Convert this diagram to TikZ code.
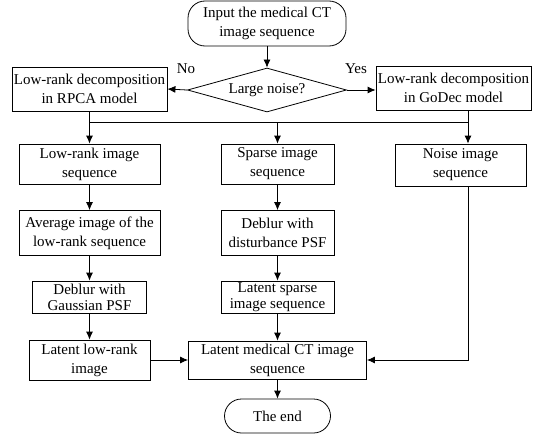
\documentclass[tikz,border=0pt]{standalone}
\usepackage{fontspec}
\setmainfont{Liberation Serif}
\usetikzlibrary{shapes.geometric,arrows.meta}
\tikzset{
  box/.style={draw, align=center, inner xsep=0pt, inner ysep=1pt, line width=.8pt,
    font=\fontsize{15}{19}\selectfont},
  tight/.style={box, inner ysep=0pt, font=\fontsize{15}{16}\selectfont},
  term/.style={box, rounded corners=17pt},
  decide/.style={draw, diamond, aspect=3.6, inner sep=0pt, line width=.8pt,
    minimum width=159pt, minimum height=44pt, font=\fontsize{15}{19}\selectfont},
  conn/.style={line width=.8pt},
  arr/.style={conn, -{Latex[length=8pt,width=7pt]}},
  tag/.style={font=\fontsize{15}{19}\selectfont, inner sep=0pt}
}

\begin{document}
\begin{tikzpicture}[x=1pt,y=-1pt]
  \useasboundingbox (0,0) rectangle (538,436);
  % start and decision
  \node[term, minimum width=158pt, minimum height=45pt] (start) at (267,23.5) {Input the medical CT\\image sequence};
  \node[decide] (noisy) at (267,90) {Large noise?};
  \node[tag] (no) at (186,69) {No};
  \node[tag] (yes) at (356,69) {Yes};
  % decompositions
  \node[box, minimum width=155pt, minimum height=44pt] (rpca) at (89.5,89) {Low-rank decomposition\\in RPCA model};
  \node[box, minimum width=155pt, minimum height=44pt] (godec) at (453.5,88) {Low-rank decomposition\\in GoDec model};
  % three sequences
  \node[box, minimum width=141pt, minimum height=40pt] (lrseq) at (89.5,164) {Low-rank image\\sequence};
  \node[box, minimum width=113pt, minimum height=40pt] (spseq) at (277.5,164) {Sparse image\\sequence};
  \node[box, minimum width=131pt, minimum height=42pt] (nsseq) at (460.5,165) {Noise image\\sequence};
  % deblurring
  \node[box, minimum width=141pt, minimum height=45pt] (avg) at (89.5,233) {Average image of the\\low-rank sequence};
  \node[box, minimum width=113pt, minimum height=45pt] (dbdist) at (277.5,233) {Deblur with\\disturbance PSF};
  \node[tight, minimum width=114pt, minimum height=32pt] (dbgauss) at (89.5,297) {Deblur with\\Gaussian PSF};
  \node[tight, minimum width=113pt, minimum height=32pt] (ltsp) at (277.5,297) {Latent sparse\\image sequence};
  % results
  \node[box, minimum width=121pt, minimum height=40pt] (ltlr) at (89.5,360) {Latent low-rank\\image};
  \node[box, minimum width=178pt, minimum height=38pt] (ltct) at (277.5,360) {Latent medical CT image\\sequence};
  \node[term, minimum width=106pt, minimum height=34pt] (stop) at (277.5,416) {The end};
  % bus points
  \coordinate (bl) at (89.5,122);
  \coordinate (bm) at (277.5,122);
  \coordinate (br) at (468,122);
  % connectors
  \draw[arr] (start) -- (noisy);
  \draw[arr] (noisy.west) -- (rpca.east);
  \draw[arr] (noisy.east) -- (noisy.east -| godec.west);
  \draw[conn] (rpca.south) -- (bl) -- (br) -- (br |- godec.south);
  \draw[arr] (bl) -- (lrseq);
  \draw[arr] (bm) -- (spseq);
  \draw[arr] (br) -- (br |- nsseq.north);
  \draw[arr] (lrseq) -- (avg);
  \draw[arr] (avg) -- (dbgauss);
  \draw[arr] (dbgauss) -- (ltlr);
  \draw[arr] (spseq) -- (dbdist);
  \draw[arr] (dbdist) -- (ltsp);
  \draw[arr] (ltsp) -- (ltct);
  \draw[arr] (ltlr) -- (ltct);
  \draw[arr] (br |- nsseq.south) |- (ltct.east);
  \draw[arr] (ltct) -- (stop);
\end{tikzpicture}
\end{document}
